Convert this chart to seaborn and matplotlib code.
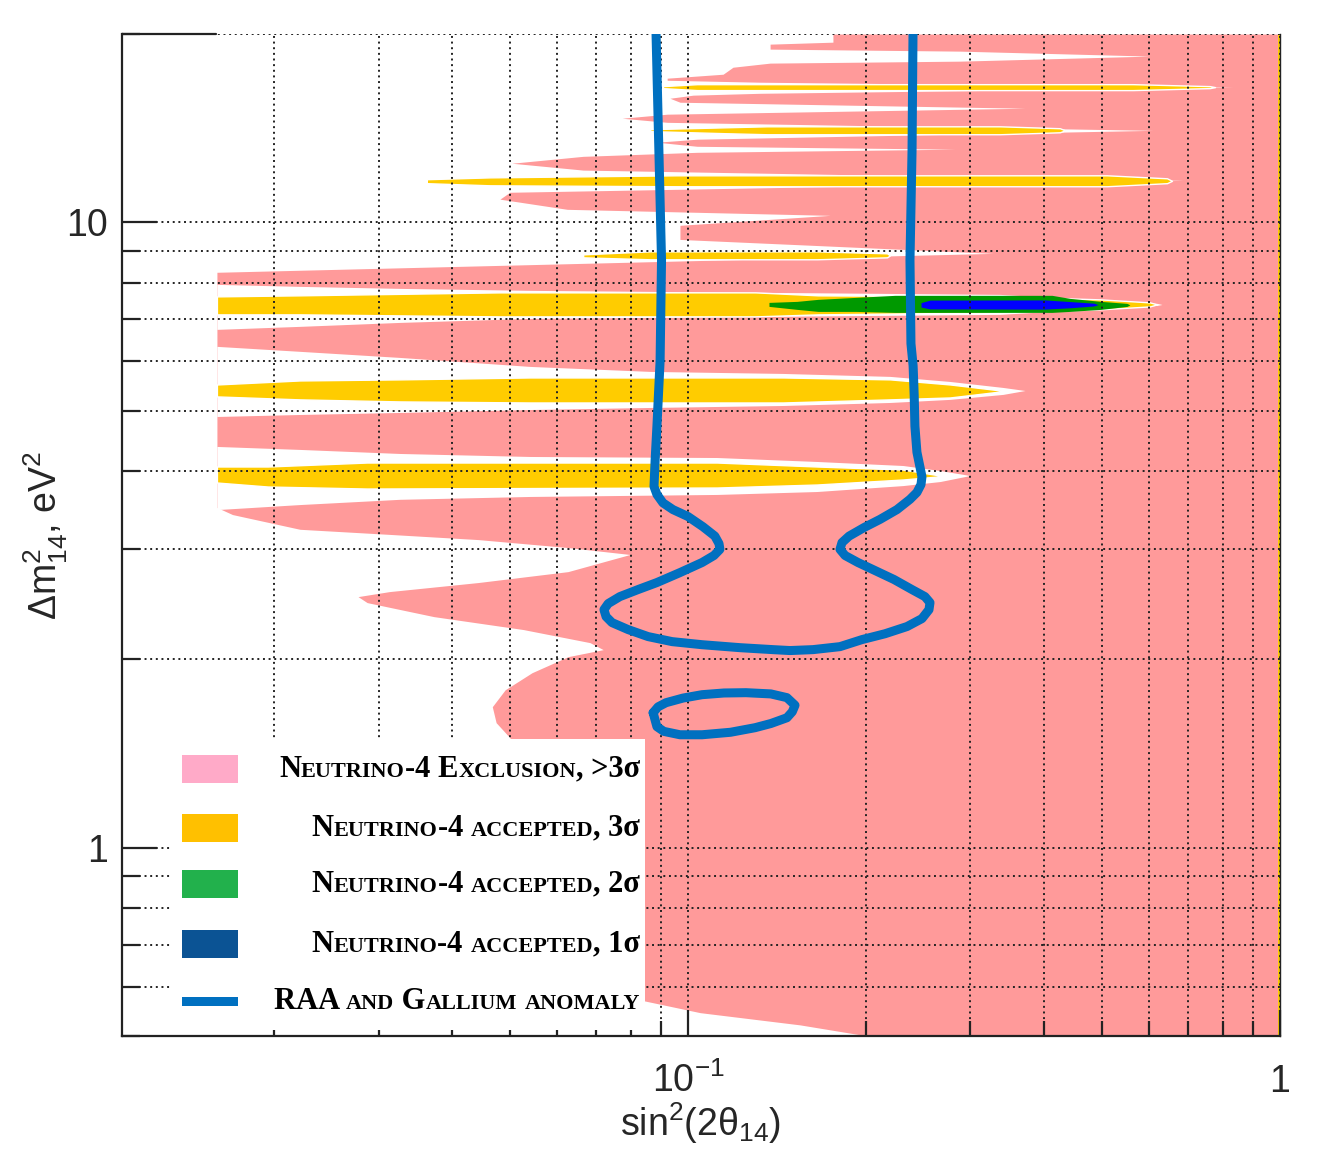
import matplotlib
matplotlib.use("Agg")
import numpy as np
import matplotlib.pyplot as plt
import seaborn as sns
from matplotlib.patches import Rectangle
from matplotlib.offsetbox import TextArea, HPacker, AnchoredOffsetbox
from matplotlib.ticker import LogLocator, NullFormatter

sns.set_theme(style="white")
plt.rcParams["font.family"] = ["Liberation Sans Narrow", "Liberation Sans", "DejaVu Sans"]
plt.rcParams["mathtext.default"] = "regular"

# axis ranges: sin^2(2theta14) and dm^2_14 [eV^2]
X_RANGE = (0.01106, 1.0)
Y_RANGE = (0.5, 20.0)

# left edge of the >3 sigma exclusion region (excluded from here up to sin^2 = 1)
PINK_Y = [20.0, 19.41, 19.27, 18.92, 18.78, 18.44, 18.10, 17.97, 17.70, 17.25,
          17.00, 16.87, 16.75, 16.44, 16.08, 15.97, 15.79, 15.56, 15.22, 14.89,
          14.67, 14.45, 14.03, 13.58, 13.43, 13.23, 13.09, 12.94, 12.75, 12.43,
          12.12, 11.67, 11.17, 10.89, 10.49, 10.26, 9.89, 9.39, 8.92, 8.32,
          3.50, 3.41, 3.23, 3.17, 3.11, 3.02, 2.944, 2.764, 2.655, 2.568,
          2.521, 2.466, 2.342, 2.233, 2.128, 2.074, 2.021, 1.905, 1.789, 1.681,
          1.585, 1.500, 0.826, 0.571, 0.545, 0.521, 0.50]
PINK_X = [0.1757, 0.1757, 0.1376, 0.1376, 0.2880, 0.6032, 0.2880, 0.1376, 0.1191, 0.1146,
          0.0922, 0.0922, 0.1323, 0.8328, 0.1323, 0.1020, 0.0932, 0.0969, 0.3710, 0.0922,
          0.0774, 0.0922, 0.6103, 0.1036, 0.0886, 0.1036, 0.2825, 0.1036, 0.0665, 0.0504,
          0.0665, 0.6859, 0.0500, 0.0481, 0.0625, 0.1738, 0.0969, 0.0969, 0.3275, 0.0160,
          0.0160, 0.0170, 0.0221, 0.0313, 0.0442, 0.0627, 0.0798, 0.0627, 0.0442, 0.0313,
          0.0277, 0.0287, 0.0372, 0.0527, 0.0683, 0.0719, 0.0627, 0.0545, 0.0491, 0.0467,
          0.0474, 0.0500, 0.0710, 0.0830, 0.1048, 0.1546, 0.2014]

# not-excluded gaps around the wide 3 sigma bands: (x, dm2 low, dm2 high)
GAPS = [
    ([0.0160, 0.0221, 0.0326, 0.0541, 0.0863, 0.3365, 0.620, 0.632],
     [6.743, 6.818, 6.918, 7.021, 7.047, 7.126, 7.365, 7.39],
     [7.958, 7.899, 7.841, 7.784, 7.755, 7.670, 7.420, 7.39]),
    ([0.0160, 0.0221, 0.0326, 0.0541, 0.0863, 0.1447, 0.2194, 0.2771, 0.3404, 0.371],
     [4.893, 4.929, 4.966, 5.020, 5.058, 5.095, 5.152, 5.211, 5.307, 5.384],
     [6.334, 6.219, 6.081, 5.883, 5.776, 5.733, 5.671, 5.566, 5.445, 5.384]),
    ([0.0160, 0.0221, 0.0326, 0.0541, 0.1119, 0.1651, 0.2307, 0.2666, 0.2995],
     [3.473, 3.538, 3.607, 3.645, 3.672, 3.712, 3.794, 3.851, 3.937],
     [4.382, 4.334, 4.270, 4.223, 4.207, 4.146, 4.085, 4.010, 3.937]),
]

# accepted at 3 sigma
ACC3 = [
    ([0.0160, 0.0221, 0.0481, 0.1298, 0.1658, 0.3365, 0.4965, 0.6032, 0.6197],
     [7.126, 7.126, 7.073, 7.073, 7.126, 7.178, 7.258, 7.338, 7.393],
     [7.614, 7.643, 7.727, 7.727, 7.643, 7.614, 7.531, 7.447, 7.393]),
    ([0.0160, 0.0221, 0.0326, 0.0541, 0.1447, 0.2194, 0.2771, 0.343],
     [5.268, 5.211, 5.172, 5.152, 5.152, 5.211, 5.248, 5.375],
     [5.505, 5.587, 5.609, 5.649, 5.649, 5.609, 5.505, 5.375]),
    ([0.0160, 0.0195, 0.0287, 0.1119, 0.1651, 0.2307, 0.2697],
     [3.837, 3.781, 3.753, 3.767, 3.809, 3.880, 3.930],
     [4.070, 4.070, 4.130, 4.130, 4.070, 4.025, 3.930]),
    ([0.0665, 0.0863, 0.1651, 0.2169, 0.2194],
     [8.790, 8.728, 8.728, 8.790, 8.855],
     [8.888, 8.987, 8.987, 8.922, 8.855]),
    ([0.0362, 0.0463, 0.0958, 0.5102, 0.6444, 0.6570],
     [11.55, 11.46, 11.42, 11.42, 11.55, 11.65],
     [11.72, 11.80, 11.89, 11.89, 11.76, 11.65]),
    ([0.0863, 0.1164, 0.1360, 0.3365, 0.4249, 0.4333],
     [13.99, 13.88, 13.83, 13.83, 13.93, 14.03],
     [14.09, 14.19, 14.24, 14.24, 14.14, 14.03]),
    ([0.0907, 0.1036, 0.5645, 0.7614, 0.7767],
     [16.39, 16.27, 16.27, 16.39, 16.45],
     [16.51, 16.63, 16.63, 16.51, 16.45]),
]

# accepted at 2 sigma
ACC2_X = [0.1370, 0.1528, 0.1658, 0.1922, 0.2237, 0.4120, 0.4417, 0.4984, 0.5514, 0.5578]
ACC2_LO = [7.338, 7.258, 7.204, 7.204, 7.178, 7.178, 7.204, 7.258, 7.338, 7.379]
ACC2_HI = [7.447, 7.475, 7.531, 7.586, 7.643, 7.643, 7.558, 7.475, 7.420, 7.379]

# accepted at 1 sigma
ACC1_X = [0.2475, 0.2563, 0.4009, 0.4417, 0.4851, 0.4927]
ACC1_LO = [7.320, 7.270, 7.265, 7.300, 7.350, 7.385]
ACC1_HI = [7.440, 7.510, 7.515, 7.470, 7.425, 7.385]

# RAA + Gallium anomaly contour
RAA_X = [0.0883, 0.0893, 0.0902, 0.0897, 0.0886, 0.0880, 0.0876, 0.0886, 0.0907, 0.0943,
         0.1000, 0.1060, 0.1110, 0.1128, 0.1132, 0.1106, 0.1056, 0.0969, 0.0886, 0.0823,
         0.0767, 0.0733, 0.0721, 0.0727, 0.0744, 0.0792, 0.0856, 0.0940, 0.1056, 0.1224,
         0.1391, 0.1487, 0.1626, 0.1806, 0.1967, 0.2152, 0.2344, 0.2484, 0.2553, 0.2563,
         0.2513, 0.2390, 0.2228, 0.2053, 0.1937, 0.1842, 0.1806, 0.1820, 0.1871, 0.1983,
         0.2110, 0.2254, 0.2371, 0.2436, 0.2475, 0.2484, 0.2466, 0.2436, 0.2417, 0.2410,
         0.2400, 0.2380, 0.2371, 0.2390, 0.2399]
RAA_Y = [20.0, 12.9, 8.7, 6.0, 4.72, 4.18, 3.781, 3.672, 3.56, 3.473,
         3.385, 3.26, 3.15, 3.064, 3.00, 2.933, 2.858, 2.754, 2.655, 2.587,
         2.521, 2.457, 2.403, 2.342, 2.291, 2.233, 2.176, 2.136, 2.112, 2.089,
         2.074, 2.067, 2.074, 2.097, 2.152, 2.199, 2.258, 2.325, 2.403, 2.466,
         2.521, 2.587, 2.685, 2.785, 2.858, 2.933, 3.00, 3.076, 3.15, 3.251,
         3.35, 3.473, 3.607, 3.70, 3.809, 3.92, 4.055, 4.29, 4.72, 5.3,
         5.9, 6.4, 8.7, 13.0, 20.0]
LOOP_X = [0.0873, 0.0890, 0.0918, 0.0980, 0.1056, 0.1150, 0.1253, 0.1380, 0.1469, 0.1516,
          0.1500, 0.1469, 0.1380, 0.1298, 0.1180, 0.1056, 0.0969, 0.0910, 0.0886, 0.0873]
LOOP_Y = [1.644, 1.680, 1.706, 1.735, 1.757, 1.768, 1.770, 1.762, 1.738, 1.690,
          1.650, 1.614, 1.580, 1.556, 1.530, 1.516, 1.516, 1.535, 1.562, 1.644]

LEGEND_LABELS = ["Neutrino-4 Exclusion, >3σ", "Neutrino-4 accepted, 3σ",
                 "Neutrino-4 accepted, 2σ", "Neutrino-4 accepted, 1σ",
                 "RAA and Gallium anomaly"]
LEGEND_COLORS = ["#ffaac8", "#ffc000", "#22b14c", "#0b5394", "#0070c0"]

PINK = "#ff9a9a"
YELLOW = "#ffcc00"
GREEN = "#009900"
BLUE = "#0000ff"
RAA_COLOR = "#0070c0"


def small_caps(label, big=22, small=16):
    # split into runs of lower case letters (drawn as smaller capitals) and the rest
    runs = []
    for ch in label:
        low = ch.isascii() and ch.islower()
        if runs and runs[-1][1] == low:
            runs[-1][0] += ch
        else:
            runs.append([ch, low])
    boxes = [TextArea(t.upper() if low else t,
                      textprops=dict(fontsize=small if low else big,
                                     family="Liberation Serif", weight="bold",
                                     color="black"))
             for t, low in runs]
    return HPacker(children=boxes, align="baseline", pad=0, sep=0)


fig = plt.figure(figsize=(13.26, 11.54), dpi=100)
ax = fig.add_axes([0.0920, 0.1022, 0.8733, 0.8683])
ax.set_xscale("log")
ax.set_yscale("log")

ax.fill_betweenx(PINK_Y, PINK_X, 1.0, color=PINK, lw=0, zorder=1)
for x, lo, hi in GAPS:
    ax.fill_between(x, lo, hi, color="white", lw=0, zorder=1.1)
for x, lo, hi in ACC3:
    ax.fill_between(x, lo, hi, facecolor=YELLOW, edgecolor="white", lw=1.0, zorder=1.2)
ax.fill_between(ACC2_X, ACC2_LO, ACC2_HI, color=GREEN, lw=0, zorder=1.3)
ax.fill_between(ACC1_X, ACC1_LO, ACC1_HI, color=BLUE, lw=0, zorder=1.4)
ax.fill_betweenx(Y_RANGE, 0.993, 1.0, color=YELLOW, lw=0, zorder=1.5)

sns.lineplot(x=RAA_X, y=RAA_Y, sort=False, estimator=None, color=RAA_COLOR,
             lw=6.5, ax=ax, zorder=4, solid_joinstyle="round")
sns.lineplot(x=LOOP_X, y=LOOP_Y, sort=False, estimator=None, color=RAA_COLOR,
             lw=6.5, ax=ax, zorder=4, solid_joinstyle="round")

ax.set_xlim(*X_RANGE)
ax.set_ylim(*Y_RANGE)

ax.set_xticks([0.1, 1.0], labels=["$10^{-1}$", "1"])
ax.set_yticks([1.0, 10.0], labels=["1", "10"])
ax.xaxis.set_minor_locator(LogLocator(base=10, subs=np.arange(2, 10), numticks=20))
ax.yaxis.set_minor_locator(LogLocator(base=10, subs=np.arange(2, 10), numticks=20))
ax.xaxis.set_minor_formatter(NullFormatter())
ax.yaxis.set_minor_formatter(NullFormatter())

ax.set_axisbelow(False)
ax.grid(True, which="both", color="#222222", ls=(0, (1, 1.9)), lw=1.4)

ax.tick_params(which="both", direction="in", bottom=True, left=True, top=False, right=False,
               color="#222222", width=1.6, labelsize=27)
ax.tick_params(axis="y", which="major", length=25, pad=10)
ax.tick_params(axis="y", which="minor", length=13)
ax.tick_params(axis="x", which="major", length=19, pad=40)
ax.tick_params(axis="x", which="minor", length=11)
for t in ax.get_xticklabels():
    t.set_va("baseline")

for s in ["left", "bottom"]:
    ax.spines[s].set_linewidth(1.6)
    ax.spines[s].set_color("#222222")
ax.spines["right"].set_linewidth(1.0)
ax.spines["right"].set_color("#222222")
ax.spines["top"].set_visible(False)
ax.plot([0, 0.081], [1, 1], transform=ax.transAxes, color="#222222", lw=1.6,
        clip_on=False, zorder=6)

ax.set_xlabel("sin$^2$(2θ$_{14}$)", fontsize=27)
ax.xaxis.set_label_coords(0.5, -0.064)
ax.set_ylabel("Δm$^2_{14}$, eV$^2$", fontsize=27)
ax.yaxis.set_label_coords(-0.045, 0.5)

# legend drawn by hand: white box, colour swatches, right-aligned small-caps labels
ax.add_patch(Rectangle((0.0415, 0.006), 0.4101, 0.2904, transform=ax.transAxes,
                       facecolor="white", edgecolor="none", zorder=5))
rows = [0.2665, 0.2076, 0.1517, 0.0918, 0.0349]
for i, (lab, col, yc) in enumerate(zip(LEGEND_LABELS, LEGEND_COLORS, rows)):
    h = 0.009 if i == 4 else 0.028
    ax.add_patch(Rectangle((0.0518, yc - h / 2), 0.0484, h, transform=ax.transAxes,
                           facecolor=col, edgecolor="none", zorder=6))
    box = AnchoredOffsetbox(loc="center right", child=small_caps(lab), pad=0, borderpad=0,
                            frameon=False, bbox_to_anchor=(0.4473, yc),
                            bbox_transform=ax.transAxes)
    box.set_zorder(7)
    ax.add_artist(box)

fig.savefig("out.png", dpi=100, facecolor="white")
